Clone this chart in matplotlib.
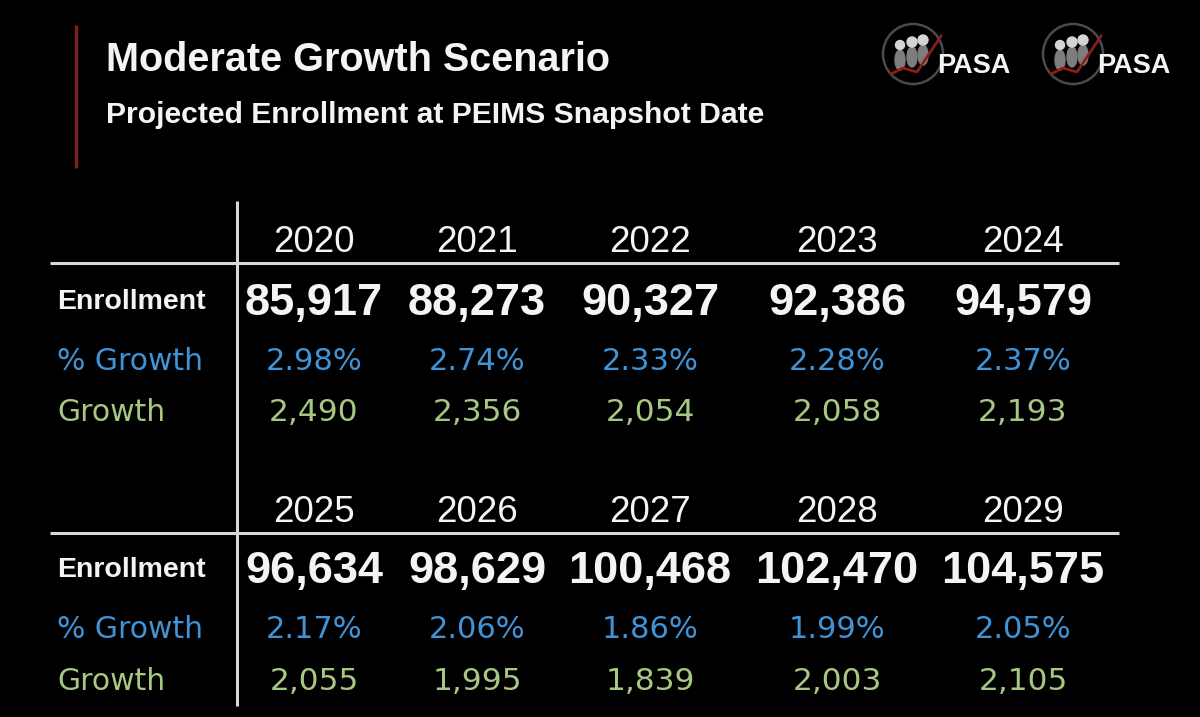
import matplotlib
matplotlib.use("Agg")
import matplotlib.pyplot as plt
from matplotlib.patches import Circle, Ellipse

# ---------------- data ----------------
title = "Moderate Growth Scenario"
subtitle = "Projected Enrollment at PEIMS Snapshot Date"
row_labels = ["Enrollment", "% Growth", "Growth"]

years_top = [2020, 2021, 2022, 2023, 2024]
enroll_top = [85917, 88273, 90327, 92386, 94579]
pct_top = [2.98, 2.74, 2.33, 2.28, 2.37]
growth_top = [2490, 2356, 2054, 2058, 2193]

years_bot = [2025, 2026, 2027, 2028, 2029]
enroll_bot = [96634, 98629, 100468, 102470, 104575]
pct_bot = [2.17, 2.06, 1.86, 1.99, 2.05]
growth_bot = [2055, 1995, 1839, 2003, 2105]

# ---------------- style ----------------
W, H = 1200, 717
BG = "#000000"
WHITE = "#f4f4f4"
BLUE = "#3f93d6"
GREEN = "#a6c882"
LINE = "#d8d8d8"
RED = "#7a2020"

SANS = "Liberation Sans"
WIDE = "DejaVu Sans"

fig = plt.figure(figsize=(W / 100, H / 100), dpi=100, facecolor=BG)
ax = fig.add_axes([0, 0, 1, 1])
ax.set_xlim(0, W)
ax.set_ylim(H, 0)
ax.axis("off")
ax.set_facecolor(BG)

# accent bar
ax.plot([76, 76], [25, 168], color=RED, lw=2.5, solid_capstyle="butt")

# titles
ax.text(106, 71, title, color=WHITE, fontsize=28.5, family=SANS,
        fontweight="bold", va="baseline", ha="left")
ax.text(106, 123, subtitle, color=WHITE, fontsize=21.7, family=SANS,
        fontweight="bold", va="baseline", ha="left")


# logos
def logo(cx, cy, tx):
    ax.add_patch(Circle((cx, cy), 30, fill=False, ec="#4a4a4a", lw=1.8))
    for dx, dy, s in [(-13, -9, 4.5), (-1, -12, 5), (10, -14, 5)]:
        ax.add_patch(Ellipse((cx + dx, cy + dy + 15), 10, 20,
                             color="#7d7d7d", zorder=2))
        ax.add_patch(Circle((cx + dx, cy + dy), s, color="#d4d4d4", zorder=3))
    ax.plot([cx - 22, cx - 10, cx + 4, cx + 28],
            [cy + 20, cy + 14, cy + 18, cy - 18],
            color="#8e1c1c", lw=2, zorder=4)
    ax.text(tx, cy + 19, "PASA", color=WHITE, fontsize=19.5, family=SANS,
            fontweight="bold", va="baseline", ha="left", zorder=5)


logo(913, 54, 937)
logo(1073, 54, 1097)

# table grid lines
ax.plot([237, 237], [201, 706], color=LINE, lw=2.2, solid_capstyle="butt")
ax.plot([50, 1119], [263, 263], color=LINE, lw=2.2, solid_capstyle="butt")
ax.plot([50, 1119], [533, 533], color=LINE, lw=2.2, solid_capstyle="butt")

col_x = [314, 477, 650, 837, 1023]


def block(years, enroll, pct, growth, ys):
    y_year, y_enr, y_pct, y_gr = ys
    ax.text(57, y_enr - 6, row_labels[0], color=WHITE, fontsize=20.5,
            family=SANS, fontweight="bold", va="baseline", ha="left")
    ax.text(57, y_pct, row_labels[1], color=BLUE, fontsize=21.5, family=WIDE,
            va="baseline", ha="left")
    ax.text(57, y_gr, row_labels[2], color=GREEN, fontsize=21.5, family=WIDE,
            va="baseline", ha="left")
    for x, yr, e, p, g in zip(col_x, years, enroll, pct, growth):
        ax.text(x, y_year, str(yr), color=WHITE, fontsize=26.5, family=SANS,
                va="baseline", ha="center")
        ax.text(x, y_enr, f"{e:,}", color=WHITE, fontsize=32.5, family=SANS,
                fontweight="bold", va="baseline", ha="center")
        ax.text(x, y_pct, f"{p:.2f}%", color=BLUE, fontsize=22, family=WIDE,
                va="baseline", ha="center")
        ax.text(x, y_gr, f"{g:,}", color=GREEN, fontsize=22.5, family=WIDE,
                va="baseline", ha="center")


block(years_top, enroll_top, pct_top, growth_top, (252, 315, 370, 421))
block(years_bot, enroll_bot, pct_bot, growth_bot, (522, 583, 638, 690))

fig.savefig("out.png", dpi=100, facecolor=BG)
